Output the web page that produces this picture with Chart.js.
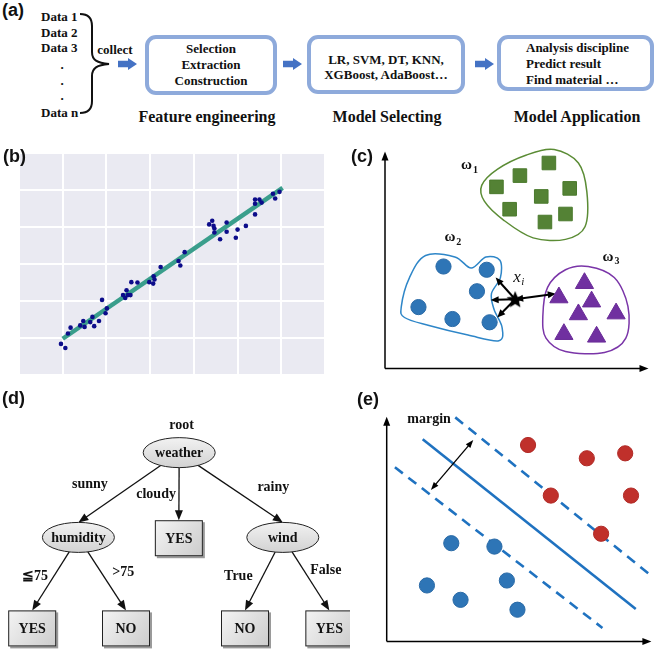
<!DOCTYPE html>
<html><head><meta charset="utf-8">
<script src="https://cdn.jsdelivr.net/npm/chart.js@4"></script>
<style>
html,body{margin:0;padding:0;background:#fff;}
#root{position:relative;width:660px;height:650px;overflow:hidden;background:#fff;}
canvas{position:absolute;z-index:1;}
.t{position:absolute;font:bold 13px 'Liberation Serif','Times New Roman',serif;white-space:nowrap;transform:translate(-50%,-50%);color:#111;line-height:1;}
.l{position:absolute;font:bold 13px 'Liberation Serif','Times New Roman',serif;white-space:nowrap;transform:translate(0,-50%);color:#111;line-height:1;}
.h{font-size:16px;}
.p{position:absolute;z-index:5;font:bold 18px 'Liberation Sans',Arial,sans-serif;color:#111;line-height:1;}
.box{position:absolute;box-sizing:border-box;border:4px solid #8eaadb;border-radius:11px;background:#fff;}
svg{position:absolute;left:0;top:0;}
</style></head>
<body><div id="root">
<!-- panel (a) -->
<div class="l" style="left:41px;top:16px">Data 1</div>
<div class="l" style="left:41px;top:32px">Data 2</div>
<div class="l" style="left:41px;top:47px">Data 3</div>
<div class="t" style="left:62px;top:64px">.</div>
<div class="t" style="left:62px;top:80px">.</div>
<div class="t" style="left:62px;top:95px">.</div>
<div class="l" style="left:41px;top:112px">Data n</div>
<div class="t" style="left:115px;top:49px">collect</div>
<svg width="660" height="130">
<path d="M80,14 C88,14 92,18 92,26 L92,52 C92,60 97,63 109,64 C97,65 92,68 92,76 L92,101 C92,109 88,113 80,113" fill="none" stroke="#111" stroke-width="2"/>
<polygon points="118,60.7 128,60.7 128,58 137,64 128,70 128,67.3 118,67.3" fill="#4472c4"/>
<polygon points="283,60.7 293,60.7 293,58 302,64 293,70 293,67.3 283,67.3" fill="#4472c4"/>
<polygon points="475,60.7 485,60.7 485,58 494,64 485,70 485,67.3 475,67.3" fill="#4472c4"/>
</svg>
<div class="box" style="left:145px;top:35px;width:132px;height:60px"></div>
<div class="t" style="left:211px;top:48px">Selection</div>
<div class="t" style="left:211px;top:64px">Extraction</div>
<div class="t" style="left:211px;top:80px">Construction</div>
<div class="t h" style="left:207px;top:117px">Feature engineering</div>
<div class="box" style="left:307px;top:35px;width:158px;height:59px"></div>
<div class="t" style="left:386px;top:59px">LR, SVM, DT, KNN,</div>
<div class="t" style="left:386px;top:74px">XGBoost, AdaBoost…</div>
<div class="t h" style="left:387px;top:117px">Model Selecting</div>
<div class="box" style="left:497px;top:35px;width:157px;height:56px"></div>
<div class="l" style="left:526px;top:47px">Analysis discipline</div>
<div class="l" style="left:526px;top:63px">Predict result</div>
<div class="l" style="left:526px;top:79px">Find material …</div>
<div class="t h" style="left:577px;top:117px">Model Application</div>

<canvas id="cb" width="330" height="240" style="left:0;top:140px"></canvas>
<canvas id="cc" width="310" height="240" style="left:350px;top:140px"></canvas>
<canvas id="cd" width="350" height="270" style="left:0;top:380px"></canvas>
<canvas id="ce" width="310" height="270" style="left:350px;top:380px"></canvas>

<div class="p" style="left:2px;top:1px">(a)</div>
<div class="p" style="left:3px;top:147px">(b)</div>
<div class="p" style="left:351px;top:147px">(c)</div>
<div class="p" style="left:2px;top:389px">(d)</div>
<div class="p" style="left:357px;top:390px">(e)</div>
</div>
<script>
// ---------- Panel (b) data ----------
const bX = [0.96,1.06,1.12,1.18,1.40,1.47,1.50,1.63,1.68,1.72,1.83,1.90,1.98,2.01,2.38,2.43,2.46,2.49,2.55,2.57,2.71,2.98,3.07,3.08,3.10,3.24,3.65,3.69,3.79,4.35,4.42,4.45,4.47,4.47,4.60,4.75,4.75,4.96,5.00,5.19,5.40,5.40,5.40,5.50,5.55,5.81,5.86,5.96];
const bY = [0.84,0.73,1.12,1.28,1.34,1.46,1.30,1.43,1.57,1.32,1.46,2.03,1.67,1.80,2.16,2.08,2.29,2.16,2.16,2.51,2.50,2.51,2.47,2.67,2.58,2.92,3.08,2.96,3.32,4.07,4.17,4.03,3.96,3.85,3.67,4.12,3.87,3.71,3.93,4.03,4.74,4.63,4.34,4.74,4.66,4.90,4.77,4.95];
const fitX = [1.0, 6.03];
const fitY = [0.98, 5.06];
const bXTicks = [0,1,2,3,4,5,6,7];
const bYTicks = [0,1,2,3,4,5,6];

// ---------- Panel (c) data ----------
const cSqX = [6.22,5.12,4.23,7.01,5.93,4.73,6.85,6.07];
const cSqY = [9.47,8.89,8.37,8.30,7.93,7.34,7.12,6.75];
const cCirX = [2.22,3.86,3.49,1.27,2.56,3.97];
const cCirY = [4.70,4.55,3.56,2.83,2.28,2.13];
const cTriX = [7.57,6.60,7.84,7.34,8.77,6.79,8.03];
const cTriY = [3.93,3.27,3.08,2.49,2.53,1.58,1.46];
const cStarX = [4.94];
const cStarY = [3.19];
const cArrX = [4.20,4.01,4.26,6.48];
const cArrY = [4.19,3.16,2.35,3.45];
const cArrBoth = [false,false,false,true];
const blob1X = [3.67,4.26,5.37,6.42,7.34,7.66,7.59,6.85,5.62,4.51,3.77];
const blob1Y = [8.44,9.18,9.84,10.09,9.47,8.15,6.53,5.95,6.02,6.83,7.71];
const blob2X = [0.62,0.93,1.54,2.65,3.27,3.83,4.36,4.38,4.04,4.14,4.44,4.32,3.15,1.67,0.74];
const blob2Y = [2.86,4.19,5.21,5.14,4.63,5.14,4.99,4.19,3.45,2.72,1.91,1.28,1.54,1.98,2.35];
const blob3X = [5.99,6.17,6.85,7.71,8.70,9.22,9.14,8.33,6.85,6.11];
const blob3Y = [2.42,3.74,4.55,4.70,4.19,2.86,1.40,0.74,0.78,1.40];
const cLabels = ['ω','ω','ω'];
const cLabelSubs = ['1','2','3'];
const cLabelX = [3.15,2.52,8.52];
const cLabelY = [9.38,6.04,5.15];

// ---------- Panel (d) data ----------
const treeNames = ['weather','humidity','YES','wind','YES','NO','NO','YES'];
const treeKinds = ['ellipse','ellipse','box','ellipse','box','box','box','box'];
const treeX = [5.12,2.24,5.11,8.08,0.92,3.60,7.00,9.41];
const treeY = [7.31,4.17,4.14,4.17,0.80,0.80,0.80,0.80];
const treeParent = [-1,0,0,0,1,1,3,3];
const edgeLabels = ['root','sunny','cloudy','rainy','≦75','>75','True','False'];
const edgeLabelX = [5.19,2.57,4.46,7.81,1.00,3.52,6.81,9.31];
const edgeLabelY = [8.33,6.15,5.78,6.03,2.71,2.86,2.71,2.93];

// ---------- Panel (e) data ----------
const eRedX = [5.34,7.56,9.01,6.20,9.23,8.10];
const eRedY = [8.74,8.15,8.37,6.49,6.49,4.79];
const eBlueX = [2.44,4.07,1.52,4.54,2.79,4.94];
const eBlueY = [4.37,4.22,2.49,2.71,1.85,1.41];
const eSolidX = [1.36,9.41];
const eSolidY = [9.00,1.44];
const eUpX = [2.59,10.06];
const eUpY = [9.97,2.86];
const eLowX = [0.31,8.15];
const eLowY = [7.75,0.60];
const eMarginX = [3.27,1.67];
const eMarginY = [8.96,6.74];
const eMarginLabelX = [1.60];
const eMarginLabelY = [9.88];

// ---------- helpers ----------
const pts = (xs, ys) => xs.map((x,i)=>({x, y:ys[i]}));
const SERIF = "'Liberation Serif','Times New Roman',serif";
function head(ctx,x1,y1,x2,y2,len,w){
  const a=Math.atan2(y2-y1,x2-x1);
  ctx.beginPath();
  ctx.moveTo(x2,y2);
  ctx.lineTo(x2-len*Math.cos(a)+w/2*Math.sin(a), y2-len*Math.sin(a)-w/2*Math.cos(a));
  ctx.lineTo(x2-len*Math.cos(a)-w/2*Math.sin(a), y2-len*Math.sin(a)+w/2*Math.cos(a));
  ctx.closePath(); ctx.fill();
}
function arrow(ctx,x1,y1,x2,y2,o){
  o=Object.assign({len:8,w:6,lw:1.5,color:'#000',both:false},o||{});
  ctx.save(); ctx.strokeStyle=o.color; ctx.fillStyle=o.color; ctx.lineWidth=o.lw;
  const a=Math.atan2(y2-y1,x2-x1), s=o.len*0.7;
  const ex=x2-s*Math.cos(a), ey=y2-s*Math.sin(a);
  const sx=o.both?x1+s*Math.cos(a):x1, sy=o.both?y1+s*Math.sin(a):y1;
  ctx.beginPath(); ctx.moveTo(sx,sy); ctx.lineTo(ex,ey); ctx.stroke();
  head(ctx,x1,y1,x2,y2,o.len,o.w);
  if(o.both) head(ctx,x2,y2,x1,y1,o.len,o.w);
  ctx.restore();
}
function closedSpline(ctx,p){
  const n=p.length; ctx.beginPath(); ctx.moveTo(p[0].x,p[0].y);
  for(let i=0;i<n;i++){
    const p0=p[(i-1+n)%n],p1=p[i],p2=p[(i+1)%n],p3=p[(i+2)%n];
    ctx.bezierCurveTo(p1.x+(p2.x-p0.x)/6,p1.y+(p2.y-p0.y)/6,p2.x-(p3.x-p1.x)/6,p2.y-(p3.y-p1.y)/6,p2.x,p2.y);
  }
  ctx.closePath();
}
function axesArrows(chart){
  const {ctx,scales:{x,y}}=chart;
  const ox=x.getPixelForValue(0), oy=y.getPixelForValue(0);
  arrow(ctx,ox,oy,x.getPixelForValue(10),oy,{len:9,w:7,lw:1.5});
  arrow(ctx,ox,oy,ox,y.getPixelForValue(10),{len:9,w:7,lw:1.5});
}
const hiddenScales = {x:{type:'linear',min:0,max:10,display:false},y:{type:'linear',min:0,max:10,display:false}};
const baseOpts = {responsive:false,animation:false,events:[],plugins:{legend:{display:false},tooltip:{enabled:false}}};

// ---------- Chart (b) ----------
new Chart(document.getElementById('cb'),{
  type:'scatter',
  data:{datasets:[
    {data:pts(bX,bY),backgroundColor:'#0c0c8a',borderColor:'#0c0c8a',pointRadius:2.3,pointBorderWidth:0,order:1},
    {data:pts(fitX,fitY),showLine:true,borderColor:'#3a9e8c',borderWidth:4.5,pointRadius:0,order:2}
  ]},
  options:Object.assign({},baseOpts,{
    layout:{padding:{left:19,right:5,top:13,bottom:5}},
    scales:{
      x:{type:'linear',min:0,max:7,afterBuildTicks:s=>{s.ticks=bXTicks.map(v=>({value:v}));},ticks:{display:false},grid:{color:'#ffffff',lineWidth:2,drawTicks:false},border:{display:false}},
      y:{type:'linear',min:0,max:6,afterBuildTicks:s=>{s.ticks=bYTicks.map(v=>({value:v}));},ticks:{display:false},grid:{color:'#ffffff',lineWidth:2,drawTicks:false},border:{display:false}}
    }
  }),
  plugins:[{id:'bg',beforeDraw(c){const a=c.chartArea;c.ctx.save();c.ctx.fillStyle='#eaeaf2';c.ctx.fillRect(a.left,a.top,a.right-a.left,a.bottom-a.top);c.ctx.restore();}}]
});

// ---------- Chart (c) ----------
const starImg=document.createElement('canvas'); starImg.width=20; starImg.height=20;
(function(){const g=starImg.getContext('2d');g.fillStyle='#000';g.beginPath();
  for(let i=0;i<10;i++){const r=i%2?4.0:9,a=-Math.PI/2+i*Math.PI/5;g.lineTo(10+r*Math.cos(a),10.8+r*Math.sin(a));}
  g.closePath();g.fill();})();
new Chart(document.getElementById('cc'),{
  type:'scatter',
  data:{datasets:[
    {data:pts(cStarX,cStarY),pointStyle:starImg,pointRadius:10},
    {data:pts(cSqX,cSqY),pointStyle:'rect',pointRadius:9.6,backgroundColor:'#548235',borderColor:'#4a7a2c',borderWidth:1},
    {data:pts(cCirX,cCirY),pointStyle:'circle',pointRadius:7.6,backgroundColor:'#2e75b6',borderColor:'#2a6aa6',borderWidth:1},
    {data:pts(cTriX,cTriY),pointStyle:'triangle',pointRadius:10.5,backgroundColor:'#7030a0',borderColor:'#6a2c98',borderWidth:1}
  ]},
  options:Object.assign({},baseOpts,{layout:{padding:{left:35,right:5,top:8,bottom:5}},scales:hiddenScales}),
  plugins:[{id:'cdraw',
    beforeDatasetsDraw(c){
      const {ctx,scales:{x,y}}=c;
      const blobs=[[blob1X,blob1Y,'#5b8c35'],[blob2X,blob2Y,'#2e86c8'],[blob3X,blob3Y,'#7a35a8']];
      ctx.save(); ctx.lineWidth=1.5;
      blobs.forEach(([bx,by,col])=>{closedSpline(ctx,bx.map((v,i)=>({x:x.getPixelForValue(v),y:y.getPixelForValue(by[i])})));ctx.strokeStyle=col;ctx.stroke();});
      ctx.restore();
      axesArrows(c);
      const sx=x.getPixelForValue(cStarX[0]), sy=y.getPixelForValue(cStarY[0]);
      cArrX.forEach((v,i)=>arrow(ctx,sx,sy,x.getPixelForValue(v),y.getPixelForValue(cArrY[i]),{len:8,w:7,lw:2,both:cArrBoth[i]}));
      ctx.save(); ctx.fillStyle='#111'; ctx.textBaseline='middle';
      cLabels.forEach((t,i)=>{const px=x.getPixelForValue(cLabelX[i]),py=y.getPixelForValue(cLabelY[i]);
        ctx.font='bold 15px '+SERIF; ctx.textAlign='left'; const w=ctx.measureText(t).width;
        ctx.fillText(t,px-7,py); ctx.font='bold 10px '+SERIF; ctx.fillText(cLabelSubs[i],px-7+w+1,py+5);});
      const lx=x.getPixelForValue(5.06), ly=y.getPixelForValue(4.19);
      ctx.font='italic 17px '+SERIF; ctx.fillText('x',lx-5,ly); ctx.font='italic 11px '+SERIF; ctx.fillText('i',lx+3,ly+5);
      ctx.restore();
    }}]
});

// ---------- Chart (d) ----------
new Chart(document.getElementById('cd'),{
  type:'scatter',
  data:{datasets:[{data:pts(treeX,treeY),pointRadius:0}]},
  options:Object.assign({},baseOpts,{layout:{padding:0},scales:hiddenScales}),
  plugins:[{id:'tree',afterDatasetsDraw(c){
    const {ctx,scales:{x,y}}=c; const els=c.getDatasetMeta(0).data;
    const RX=36,RY=15,BW=24,BH=18;
    const P=els.map(e=>({x:e.x,y:e.y}));
    treeParent.forEach((p,i)=>{ if(p<0) return;
      const tx=P[i].x, ty=P[i].y-(treeKinds[i]==='box'?BH:RY);
      const dx=tx-P[p].x, dy=ty-P[p].y; const t=1/Math.sqrt((dx/RX)**2+(dy/RY)**2);
      arrow(ctx,P[p].x+dx*t,P[p].y+dy*t,tx,ty,{len:10,w:8,lw:1.3,color:'#111'});
    });
    P.forEach((q,i)=>{ ctx.save(); ctx.strokeStyle='#222'; ctx.lineWidth=1;
      if(treeKinds[i]==='ellipse'){
        const g=ctx.createLinearGradient(0,q.y-RY,0,q.y+RY); g.addColorStop(0,'#f2f2f2'); g.addColorStop(1,'#d2d2d2');
        ctx.beginPath(); ctx.ellipse(q.x,q.y,RX,RY,0,0,Math.PI*2); ctx.fillStyle=g; ctx.fill(); ctx.stroke();
      } else {
        const g=ctx.createLinearGradient(q.x-BW,q.y-BH,q.x+BW,q.y+BH); g.addColorStop(0,'#f4f4f4'); g.addColorStop(1,'#cccccc');
        ctx.fillStyle='#9a9a9a'; ctx.fillRect(q.x-BW+2,q.y-BH+2,BW*2,BH*2);
        ctx.fillStyle=g; ctx.fillRect(q.x-BW,q.y-BH,BW*2,BH*2); ctx.strokeRect(q.x-BW+0.5,q.y-BH+0.5,BW*2-1,BH*2-1);
      }
      ctx.fillStyle='#111'; ctx.font='bold 14px '+SERIF; ctx.textAlign='center'; ctx.textBaseline='middle';
      ctx.fillText(treeNames[i],q.x,q.y+1); ctx.restore();
    });
    ctx.save(); ctx.fillStyle='#111'; ctx.font='bold 14px '+SERIF; ctx.textAlign='center'; ctx.textBaseline='middle';
    edgeLabels.forEach((t,i)=>ctx.fillText(t,x.getPixelForValue(edgeLabelX[i]),y.getPixelForValue(edgeLabelY[i])));
    ctx.restore();
  }}]
});

// ---------- Chart (e) ----------
new Chart(document.getElementById('ce'),{
  type:'scatter',
  data:{datasets:[
    {data:pts(eRedX,eRedY),pointRadius:7.6,backgroundColor:'#c0302b',borderColor:'#b02a26',borderWidth:1},
    {data:pts(eBlueX,eBlueY),pointRadius:7.6,backgroundColor:'#2e75b6',borderColor:'#2a6aa6',borderWidth:1},
    {data:pts(eSolidX,eSolidY),showLine:true,borderColor:'#1f72c0',borderWidth:2.6,pointRadius:0,clip:false},
    {data:pts(eUpX,eUpY),showLine:true,borderColor:'#1f72c0',borderWidth:2.6,borderDash:[10,7],pointRadius:0,clip:false},
    {data:pts(eLowX,eLowY),showLine:true,borderColor:'#1f72c0',borderWidth:2.6,borderDash:[10,7],pointRadius:0,clip:false}
  ]},
  options:Object.assign({},baseOpts,{layout:{padding:{left:36.7,right:3.3,top:36.7,bottom:8.3}},scales:hiddenScales}),
  plugins:[{id:'edraw',afterDatasetsDraw(c){
    const {ctx,scales:{x,y}}=c;
    axesArrows(c);
    arrow(ctx,x.getPixelForValue(eMarginX[0]),y.getPixelForValue(eMarginY[0]),x.getPixelForValue(eMarginX[1]),y.getPixelForValue(eMarginY[1]),{len:8,w:6,lw:1.3,both:true});
    ctx.save(); ctx.fillStyle='#111'; ctx.font='bold 14px '+SERIF; ctx.textAlign='center'; ctx.textBaseline='middle';
    ctx.fillText('margin',x.getPixelForValue(eMarginLabelX[0]),y.getPixelForValue(eMarginLabelY[0])); ctx.restore();
  }}]
});
</script>
</body></html>
